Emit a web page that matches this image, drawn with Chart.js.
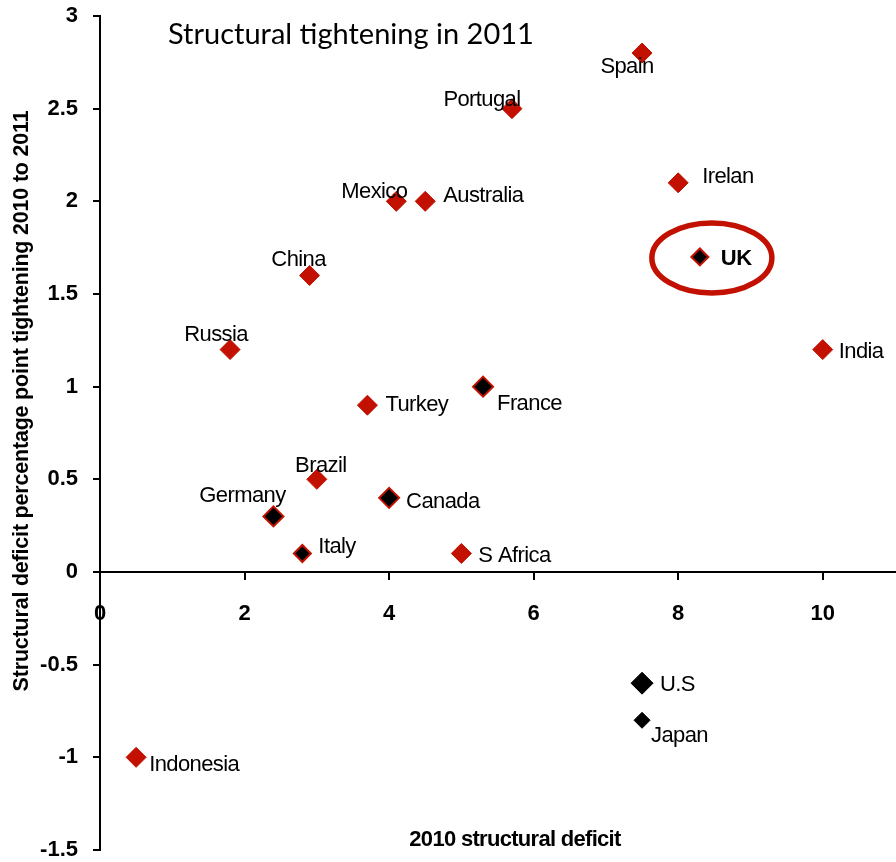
<!DOCTYPE html>
<html>
<head>
<meta charset="utf-8">
<script src="https://cdn.jsdelivr.net/npm/chart.js@4/dist/chart.umd.min.js"></script>
<style>
  html, body { margin: 0; padding: 0; background: #fff; overflow: hidden; }
  #wrap { width: 896px; height: 862px; }
  canvas { display: block; }
</style>
</head>
<body>
<div id="wrap"><canvas id="c" width="896" height="862"></canvas></div>
<script>
// Structural deficit in 2010 vs. tightening planned for 2011
const countries   = ['Spain', 'Portugal', 'Irelan', 'UK', 'India', 'Mexico', 'Australia', 'China', 'Russia', 'Turkey',
                     'France', 'Brazil', 'Germany', 'Canada', 'Italy', 'S Africa', 'U.S', 'Japan', 'Indonesia'];
const deficit2010 = [7.5, 5.7, 8.0, 8.3, 10.0, 4.1, 4.5, 2.9, 1.8, 3.7,
                     5.3, 3.0, 2.4, 4.0, 2.8, 5.0, 7.5, 7.5, 0.5];
const tightening  = [2.8, 2.5, 2.1, 1.7, 1.2, 2.0, 2.0, 1.6, 1.2, 0.9,
                     1.0, 0.5, 0.3, 0.4, 0.1, 0.1, -0.6, -0.8, -1.0];
const xTicks = [0, 2, 4, 6, 8, 10];
const yTicks = [-1.5, -1, -0.5, 0, 0.5, 1, 1.5, 2, 2.5, 3];

const chartTitle = 'Structural tightening in 2011';
const xTitle = '2010 structural deficit';
const yTitle = 'Structural deficit percentage point tightening 2010 to 2011';
const highlighted = 'UK';

// ---- styling ----
const RED = '#C21100';
const BLACK = '#000000';
const FONT = '"Liberation Sans", Arial, sans-serif';

// marker kinds: default red diamond; 'outlined' = black with red rim; 'black' = plain black
const markerKind = { UK: 'outlined', France: 'outlined', Germany: 'outlined', Canada: 'outlined', Italy: 'outlined',
                     'U.S': 'black', Japan: 'black' };
const markerRadius = { UK: 8.5, Italy: 8.5, Japan: 8, 'U.S': 11 };

// label placement relative to the marker (pixels)
const labelPlacement = {
  'Spain':     { dx: -15, dy: 14,  align: 'center' },
  'Portugal':  { dx: -30, dy: -9,  align: 'center' },
  'Irelan':    { dx: 24,  dy: -6,  align: 'left' },
  'UK':        { dx: 21,  dy: 2,   align: 'left' },
  'India':     { dx: 16,  dy: 2,   align: 'left' },
  'Mexico':    { dx: -22, dy: -9,  align: 'center' },
  'Australia': { dx: 18,  dy: -5,  align: 'left' },
  'China':     { dx: -11, dy: -16, align: 'center' },
  'Russia':    { dx: -14, dy: -15, align: 'center' },
  'Turkey':    { dx: 18,  dy: 0,   align: 'left' },
  'France':    { dx: 14,  dy: 17,  align: 'left' },
  'Brazil':    { dx: 4,   dy: -13, align: 'center' },
  'Germany':   { dx: -31, dy: -20, align: 'center' },
  'Canada':    { dx: 17,  dy: 4,   align: 'left' },
  'Italy':     { dx: 16,  dy: -7,  align: 'left' },
  'S Africa':  { dx: 17,  dy: 2,   align: 'left' },
  'U.S':       { dx: 18,  dy: 2,   align: 'left' },
  'Japan':     { dx: 9,   dy: 16,  align: 'left' },
  'Indonesia': { dx: 13,  dy: 8,   align: 'left' }
};

const kindOf = i => markerKind[countries[i]] || 'red';

// Titles, point labels and the ring around the highlighted country
const annotations = {
  id: 'annotations',
  afterDatasetsDraw(chart) {
    const ctx = chart.ctx;
    const meta = chart.getDatasetMeta(0);
    const area = chart.chartArea;
    ctx.save();

    // ring around the highlighted point
    const hi = meta.data[countries.indexOf(highlighted)];
    ctx.beginPath();
    ctx.ellipse(hi.x + 12, hi.y + 1, 60, 35, 0, 0, Math.PI * 2);
    ctx.strokeStyle = RED;
    ctx.lineWidth = 5.5;
    ctx.stroke();

    // point labels
    ctx.fillStyle = '#000';
    ctx.textBaseline = 'middle';
    countries.forEach((name, i) => {
      const pt = meta.data[i];
      const lp = labelPlacement[name];
      ctx.font = (name === highlighted ? 'bold ' : '') + '22px ' + FONT;
      ctx.letterSpacing = '-0.6px';
      ctx.textAlign = lp.align;
      ctx.fillText(name, pt.x + lp.dx, pt.y + lp.dy);
    });

    // chart title inside the plot
    ctx.letterSpacing = '0px';
    ctx.font = '29px Lato, "Open Sans", sans-serif';
    ctx.textAlign = 'left';
    ctx.textBaseline = 'alphabetic';
    ctx.fillText(chartTitle, area.left + 68, area.top + 28);

    // x-axis title near the bottom of the plot
    ctx.font = 'bold 22px ' + FONT;
    ctx.letterSpacing = '-0.7px';
    ctx.textAlign = 'center';
    ctx.textBaseline = 'middle';
    ctx.fillText(xTitle, area.left + 415, area.bottom - 10);

    // y-axis title, rotated
    ctx.translate(22, area.top + 385);
    ctx.rotate(-Math.PI / 2);
    ctx.font = 'bold 21.5px ' + FONT;
    ctx.letterSpacing = '-0.2px';
    ctx.fillText(yTitle, 0, 0);

    ctx.restore();
  }
};

const tickFont = { family: FONT, size: 22, weight: 'bold' };

new Chart(document.getElementById('c'), {
  type: 'scatter',
  data: {
    datasets: [{
      data: countries.map((c, i) => ({ x: deficit2010[i], y: tightening[i] })),
      pointStyle: 'rectRot',
      pointRadius: c => markerRadius[countries[c.dataIndex]] || 10,
      pointHoverRadius: c => markerRadius[countries[c.dataIndex]] || 10,
      pointBackgroundColor: c => kindOf(c.dataIndex) === 'red' ? RED : BLACK,
      pointBorderColor: c => kindOf(c.dataIndex) === 'black' ? BLACK : RED,
      pointBorderWidth: c => kindOf(c.dataIndex) === 'outlined' ? 2 : 1,
      clip: false
    }]
  },
  options: {
    responsive: false,
    animation: false,
    events: [],
    layout: { autoPadding: false, padding: { top: 16, bottom: 12, left: 0, right: 1 } },
    plugins: { legend: { display: false }, tooltip: { enabled: false } },
    scales: {
      x: {
        type: 'linear',
        min: 0, max: 11,
        position: { y: 0 },
        afterBuildTicks: s => { s.ticks = xTicks.map(v => ({ value: v })); },
        afterFit: s => { s.paddingLeft = 0; s.paddingRight = 0; s.paddingTop = 0; s.paddingBottom = 0; s.height = 0; },
        grid: { drawOnChartArea: false, drawTicks: true, tickLength: 7, color: '#000', lineWidth: 2 },
        border: { color: '#000', width: 2 },
        ticks: { font: tickFont, color: '#000', padding: 22, maxRotation: 0, autoSkip: false,
                 callback: v => String(v) }
      },
      y: {
        type: 'linear',
        min: -1.5, max: 3,
        position: 'left',
        afterBuildTicks: s => { s.ticks = yTicks.map(v => ({ value: v })); },
        afterFit: s => { s.width = 100; s.paddingTop = 0; s.paddingBottom = 0; },
        grid: { drawOnChartArea: false, drawTicks: true, tickLength: 7, color: '#000', lineWidth: 2 },
        border: { color: '#000', width: 2 },
        ticks: { font: tickFont, color: '#000', padding: 15, autoSkip: false,
                 callback: v => String(v) }
      }
    }
  },
  plugins: [annotations]
});
</script>
</body>
</html>
